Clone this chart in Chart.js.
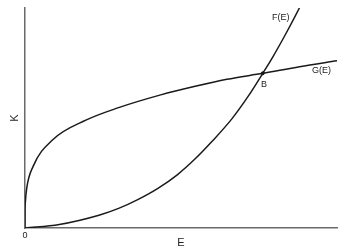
<!DOCTYPE html>
<html>
<head>
<meta charset="utf-8">
<script src="https://cdn.jsdelivr.net/npm/chart.js@4/dist/chart.umd.min.js"></script>
<style>
  html, body { margin: 0; padding: 0; background: #fff; }
  #wrap { width: 342px; height: 250px; }
</style>
</head>
<body>
<div id="wrap"><canvas id="chart"></canvas></div>
<script>
// values (E on x, K on y, both 0..10)
const gE = [0, 0.002, 0.01, 0.054, 0.26, 0.88, 1.95, 3.0, 4.35, 5.42, 6.47, 7.62, 8.8, 10];
const gK = [0, 0.76, 1.15, 1.8, 2.8, 4.0, 4.9, 5.47, 6.05, 6.43, 6.76, 7.03, 7.33, 7.6];

const fE = [0, 1.1, 2.37, 3.0, 3.63, 4.26, 4.89, 5.43, 5.99, 6.63, 7.15, 7.62, 7.94, 8.36, 8.79, 8.95];
const fK = [0, 0.16, 0.58, 0.89, 1.3, 1.8, 2.43, 3.11, 3.93, 4.96, 5.98, 7.03, 7.77, 8.83, 9.99, 10.47];

const intersection = { E: 7.62, K: 7.03 };

const curveLabels = [
  { text: "F(E)", E: 8.2, K: 9.55 },
  { text: "G(E)", E: 9.5, K: 7.18 },
  { text: "B", E: 7.66, K: 6.5 },
];

const toPoints = (xs, ys) => xs.map((x, i) => ({ x, y: ys[i] }));

const labelPlugin = {
  id: "curveLabels",
  afterDatasetsDraw(chart) {
    const { ctx, scales } = chart;
    ctx.save();
    ctx.fillStyle = "#222";
    ctx.font = "9px 'Liberation Sans', Arial, sans-serif";
    ctx.textAlign = "center";
    ctx.textBaseline = "middle";
    for (const lbl of curveLabels) {
      ctx.fillText(lbl.text, scales.x.getPixelForValue(lbl.E), scales.y.getPixelForValue(lbl.K));
    }
    ctx.restore();
  },
};

const lineStyle = {
  showLine: true,
  borderColor: "#1a1a1a",
  borderWidth: 1.5,
  pointRadius: 0,
  cubicInterpolationMode: "monotone",
  fill: false,
};

new Chart(document.getElementById("chart"), {
  type: "scatter",
  data: {
    datasets: [
      { ...lineStyle, label: "G(E)", data: toPoints(gE, gK) },
      { ...lineStyle, label: "F(E)", data: toPoints(fE, fK) },
      {
        label: "B",
        data: [{ x: intersection.E, y: intersection.K }],
        pointRadius: 1.5,
        backgroundColor: "#111",
        borderColor: "#111",
      },
    ],
  },
  options: {
    responsive: true,
    maintainAspectRatio: false,
    animation: false,
    layout: { padding: { top: 8, right: 0, left: 0, bottom: 0 } },
    plugins: {
      legend: { display: false },
      tooltip: { enabled: false },
    },
    scales: {
      x: {
        type: "linear",
        min: 0,
        max: 10,
        grid: { display: false, drawTicks: false },
        border: { display: true, color: "#6a6a6a", width: 1.5 },
        afterBuildTicks: (scale) => { scale.ticks = [{ value: 0 }]; },
        afterFit: (scale) => { scale.height = 22; },
        ticks: {
          padding: 2,
          color: "#222",
          font: { size: 9, family: "'Liberation Sans', Arial, sans-serif" },
        },
        title: {
          display: true,
          text: "E",
          color: "#222",
          padding: { top: 0, bottom: 0 },
          font: { size: 11, family: "'Liberation Sans', Arial, sans-serif" },
        },
      },
      y: {
        type: "linear",
        min: 0,
        max: 10,
        grid: { display: false, drawTicks: false },
        border: { display: true, color: "#6a6a6a", width: 1.5 },
        ticks: { display: false },
        afterFit: (scale) => { scale.width = 25; },
        title: {
          display: true,
          text: "K",
          color: "#222",
          padding: { top: 8, bottom: 0 },
          font: { size: 11, family: "'Liberation Sans', Arial, sans-serif" },
        },
      },
    },
  },
  plugins: [labelPlugin],
});
</script>
</body>
</html>
